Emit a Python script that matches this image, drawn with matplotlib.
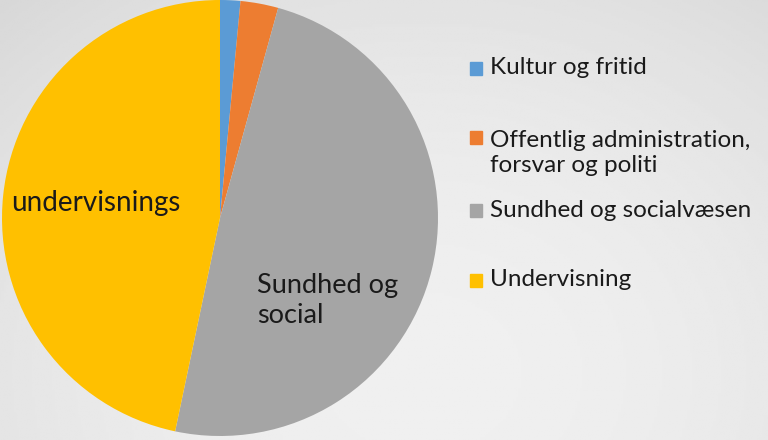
import numpy as np
import matplotlib.pyplot as plt
from matplotlib.patches import Rectangle

# andel pr. sektor
sectors = ['Kultur og fritid', 'Offentlig administration,\nforsvar og politi',
           'Sundhed og socialvæsen', 'Undervisning']
shares = [1.5, 2.8, 49.0, 46.7]
colors = ['#5B9BD5', '#ED7D31', '#A5A5A5', '#FFC000']

plt.rcParams['font.family'] = ['Lato', 'DejaVu Sans']

fig = plt.figure(figsize=(7.68, 4.4), dpi=100)

# lys grå baggrund med svag gradient
bg = fig.add_axes([0, 0, 1, 1])
yy, xx = np.mgrid[0:1:200j, 0:1:300j]
shade = 0.94 - 0.12 * ((xx - 0.55) ** 2 * 1.2 + (yy - 0.85) ** 2 * 0.6)
bg.imshow(shade, cmap='gray', vmin=0, vmax=1, aspect='auto', extent=[0, 1, 0, 1])
bg.axis('off')

ax = fig.add_axes([2 / 768, 4 / 440, 436 / 768, 436 / 440])
ax.pie(shares, colors=colors, startangle=90, counterclock=False,
       wedgeprops={'linewidth': 0})
ax.set_aspect('equal')
ax.set_xlim(-1, 1)
ax.set_ylim(-1, 1)

ax.text(-0.96, 0.07, 'undervisnings', fontsize=20, va='center', ha='left', color='#1a1a1a')
ax.text(0.17, -0.38, 'Sundhed og\nsocial', fontsize=19.5, va='center', ha='left',
        color='#1a1a1a', linespacing=1.25)

# forklaring
leg_y = [68, 153, 210, 280]
for lab, col, y in zip(sectors, colors, leg_y):
    n = lab.count('\n')
    ytop = y - 15.5 * n
    fig.patches.append(Rectangle((470 / 768, 1 - (ytop + 7) / 440), 12 / 768, 13 / 440,
                                 transform=fig.transFigure, color=col))
    fig.text(490 / 768, 1 - y / 440, lab, fontsize=17.5, va='center', ha='left',
             color='#1a1a1a', linespacing=1.25)

fig.savefig('out.png', dpi=100)
